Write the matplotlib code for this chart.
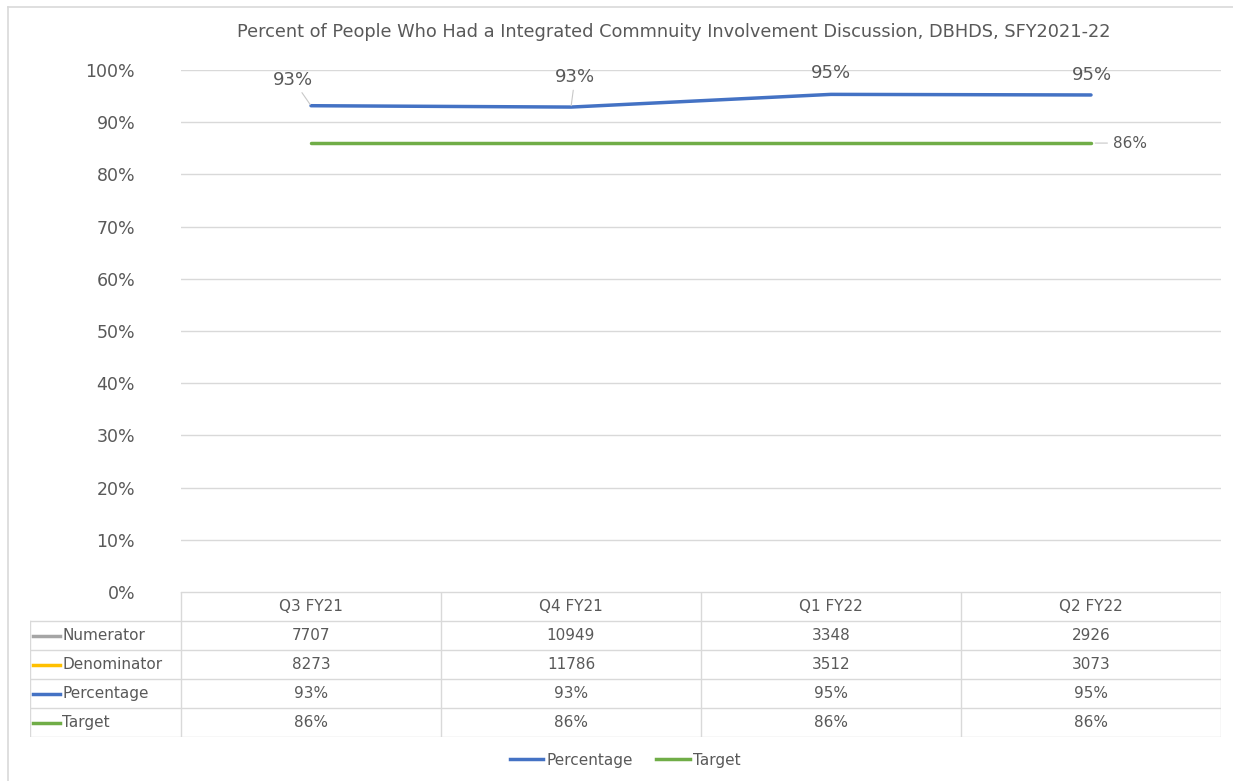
import matplotlib.pyplot as plt
from matplotlib.lines import Line2D

plt.rcParams['font.family'] = ['DejaVu Sans']

quarters = ["Q3 FY21", "Q4 FY21", "Q1 FY22", "Q2 FY22"]
numerator = [7707, 10949, 3348, 2926]
denominator = [8273, 11786, 3512, 3073]
target = [0.86, 0.86, 0.86, 0.86]
percentage = [n / d for n, d in zip(numerator, denominator)]

title = "Percent of People Who Had a Integrated Commnuity Involvement Discussion, DBHDS, SFY2021-22"

C_TEXT = "#595959"
C_GRID = "#D9D9D9"
C_NUM = "#A5A5A5"
C_DEN = "#FFC000"
C_PCT = "#4472C4"
C_TGT = "#70AD47"

W, H = 1233, 781
fig = plt.figure(figsize=(W / 100, H / 100), dpi=100)


def px(x0, y0, x1, y1):
    # pixel box (top-left origin) -> figure fraction rect
    return [x0 / W, 1 - y1 / H, (x1 - x0) / W, (y1 - y0) / H]


# chart frame (top and left edges)
fig.add_artist(Line2D([8 / W, 1], [1 - 7 / H] * 2, color=C_GRID, lw=1.2))
fig.add_artist(Line2D([8 / W] * 2, [0, 1 - 7 / H], color=C_GRID, lw=1.2))

fig.text(674 / W, 1 - 32 / H, title, ha="center", va="center", fontsize=12.8, color=C_TEXT)

ax = fig.add_axes(px(181, 70, 1221, 592))
x = list(range(len(quarters)))
ax.set_xlim(-0.5, len(quarters) - 0.5)
ax.set_ylim(0, 1)
ax.set_yticks([i / 10 for i in range(11)])
ax.set_yticklabels([f"{i * 10}%" for i in range(11)], fontsize=12.5, color=C_TEXT)
ax.set_xticks([])
ax.tick_params(axis="y", length=0, pad=33)
for s in ax.spines.values():
    s.set_visible(False)
ax.grid(axis="y", color=C_GRID, lw=1)
ax.set_axisbelow(True)

ax.plot(x, percentage, color=C_PCT, lw=2.5, solid_capstyle="round")
ax.plot(x, target, color=C_TGT, lw=2.5, solid_capstyle="round")

# data labels on the percentage line
offsets = [(-18, 26), (4, 30), (0, 21), (1, 20)]
for xi, v, off in zip(x, percentage, offsets):
    lead = dict(arrowstyle="-", color="#C8C8C8", lw=0.8, shrinkA=1, shrinkB=1) if xi < 2 else None
    ax.annotate(f"{v:.0%}", (xi, v), xytext=off, textcoords="offset pixels",
                ha="center", va="center", fontsize=13, color=C_TEXT, arrowprops=lead)
ax.annotate(f"{target[-1]:.0%}", (x[-1], target[-1]), xytext=(22, 0), textcoords="offset pixels",
            ha="left", va="center", fontsize=11, color=C_TEXT,
            arrowprops=dict(arrowstyle="-", color="#C8C8C8", lw=0.8, shrinkA=2, shrinkB=3))

# data table under the chart
tax = fig.add_axes(px(30, 592, 1221, 737))
left = -0.5 - (181 - 30) / 260
tax.set_xlim(left, len(quarters) - 0.5)
tax.set_ylim(5, 0)
tax.axis("off")

rows = [("Numerator", C_NUM, [str(v) for v in numerator]),
        ("Denominator", C_DEN, [str(v) for v in denominator]),
        ("Percentage", C_PCT, [f"{v:.0%}" for v in percentage]),
        ("Target", C_TGT, [f"{v:.0%}" for v in target])]

lc = dict(color=C_GRID, lw=1)
right = len(quarters) - 0.5
tax.plot([-0.5, right], [0, 0], **lc)
for r in range(1, 6):
    tax.plot([left, right], [r, r], **lc)
for b in [i - 0.5 for i in range(len(quarters) + 1)]:
    tax.plot([b, b], [0, 5], **lc)
tax.plot([left, left], [1, 5], **lc)

for i, q in enumerate(quarters):
    tax.text(i, 0.5, q, ha="center", va="center", fontsize=11, color=C_TEXT)
for r, (name, col, vals) in enumerate(rows, start=1):
    key_x0 = left + 3 / 260
    tax.plot([key_x0, key_x0 + 27 / 260], [r + 0.5, r + 0.5], color=col, lw=2.5)
    tax.text(key_x0 + 29 / 260, r + 0.5, name, ha="left", va="center", fontsize=11, color=C_TEXT)
    for i, v in enumerate(vals):
        tax.text(i, r + 0.5, v, ha="center", va="center", fontsize=11, color=C_TEXT)

handles = [Line2D([], [], color=C_PCT, lw=2.5), Line2D([], [], color=C_TGT, lw=2.5)]
fig.legend(handles, ["Percentage", "Target"], loc="center", ncol=2,
           bbox_to_anchor=(625 / W, 1 - 760 / H), frameon=False, fontsize=11,
           labelcolor=C_TEXT, handlelength=2.2, handletextpad=0.2, columnspacing=1.5)

fig.savefig("out.png", dpi=100, facecolor="white")
